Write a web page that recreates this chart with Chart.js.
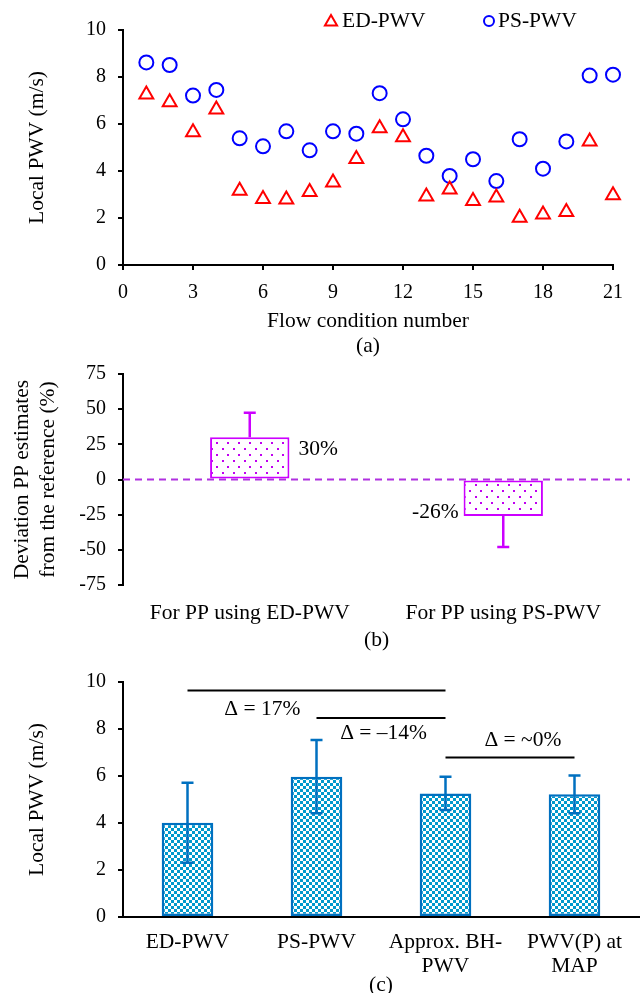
<!DOCTYPE html>
<html>
<head>
<meta charset="utf-8">
<script src="https://cdn.jsdelivr.net/npm/chart.js@4.4.1/dist/chart.umd.min.js"></script>
<style>
  body { margin: 0; background: #fff; width: 644px; height: 993px; overflow: hidden; position: relative; }
  canvas { position: absolute; left: 0; }
</style>
</head>
<body>
<canvas id="chartA" width="644" height="365" style="top:0px"></canvas>
<canvas id="chartB" width="644" height="305" style="top:350px"></canvas>
<canvas id="chartC" width="644" height="355" style="top:645px"></canvas>
<script>
// (a) local PWV per flow condition
const flowCondition = [1, 2, 3, 4, 5, 6, 7, 8, 9, 10, 11, 12, 13, 14, 15, 16, 17, 18, 19, 20, 21];
const edPwv = [7.26, 6.93, 5.65, 6.62, 3.16, 2.81, 2.79, 3.11, 3.51, 4.51, 5.82, 5.44, 2.92, 3.21, 2.72, 2.87, 2.01, 2.15, 2.26, 5.26, 2.97];
const psPwv = [8.62, 8.51, 7.21, 7.45, 5.39, 5.05, 5.69, 4.88, 5.69, 5.59, 7.31, 6.20, 4.65, 3.79, 4.50, 3.57, 5.35, 4.10, 5.26, 8.06, 8.10];

// (b) deviation of PP estimates
const ppLabels = ["For PP using ED-PWV", "For PP using PS-PWV"];
const ppDeviation = [30, -26];
const ppError = [17.5, 22];
const ppText = ["30%", "-26%"];

// (c) mean local PWV per method
const methodLabels = [["ED-PWV"], ["PS-PWV"], ["Approx. BH-", "PWV"], ["PWV(P) at", "MAP"]];
const methodMean = [4.01, 5.97, 5.26, 5.22];
const methodSd = [1.70, 1.56, 0.71, 0.80];
const deltaFrom = [0, 1, 2];
const deltaTo = [2, 2, 3];
const deltaLevel = [9.64, 8.47, 6.79];
const deltaText = ["\u0394 = 17%", "\u0394 = \u201314%", "\u0394 = ~0%"];

const FAMILY = "'Liberation Serif', 'Times New Roman', serif";
Chart.defaults.font.family = FAMILY;
Chart.defaults.font.size = 20;
Chart.defaults.color = "#000";

const serif = { family: FAMILY, size: 21.5, lineHeight: 1.18 };
const textFont = "21.5px 'Liberation Serif'";

function makePattern(kind) {
  const c = document.createElement("canvas");
  const g = c.getContext("2d");
  if (kind === "dots") {
    c.width = 11; c.height = 12;
    g.fillStyle = "#fff"; g.fillRect(0, 0, 11, 12);
    g.fillStyle = "#c000f0";
    g.fillRect(2, 2, 2, 2);
    g.fillRect(7, 8, 2, 2);
  } else {
    c.width = 6; c.height = 6;
    g.fillStyle = "#fff"; g.fillRect(0, 0, 6, 6);
    g.fillStyle = "#0099cc";
    g.fillRect(0, 0, 3, 3);
    g.fillRect(3, 3, 3, 3);
  }
  return g.createPattern(c, "repeat");
}

const errorBars = {
  id: "errorBars",
  afterDatasetsDraw(chart, args, opts) {
    const ctx = chart.ctx;
    const yScale = chart.scales.y;
    const meta = chart.getDatasetMeta(0);
    ctx.save();
    ctx.strokeStyle = opts.color;
    ctx.lineWidth = opts.width;
    meta.data.forEach((bar, i) => {
      const v = opts.values[i];
      const e = opts.errors[i];
      let hi = v + e, lo = v - e;
      if (opts.oneSided) {
        if (v >= 0) lo = v; else hi = v;
      }
      const y1 = yScale.getPixelForValue(hi);
      const y2 = yScale.getPixelForValue(lo);
      const w = opts.cap / 2;
      ctx.beginPath();
      ctx.moveTo(bar.x, y1);
      ctx.lineTo(bar.x, y2);
      if (!opts.oneSided || v >= 0) { ctx.moveTo(bar.x - w, y1); ctx.lineTo(bar.x + w, y1); }
      if (!opts.oneSided || v < 0) { ctx.moveTo(bar.x - w, y2); ctx.lineTo(bar.x + w, y2); }
      ctx.stroke();
    });
    ctx.restore();
  }
};

// legend of panel (a), drawn by hand so it sits right of centre
const legendA = {
  id: "legendA",
  afterDraw(chart) {
    const ctx = chart.ctx;
    ctx.save();
    ctx.lineWidth = 2;
    ctx.strokeStyle = "#ff0000";
    ctx.beginPath();
    const tx = 331, ty = 22, r = 7;
    ctx.moveTo(tx, ty - r);
    ctx.lineTo(tx + r * 0.866, ty + r / 2);
    ctx.lineTo(tx - r * 0.866, ty + r / 2);
    ctx.closePath();
    ctx.stroke();
    ctx.strokeStyle = "#0000ff";
    ctx.beginPath();
    ctx.arc(489, 21, 5, 0, Math.PI * 2);
    ctx.stroke();
    ctx.font = textFont;
    ctx.fillStyle = "#000";
    ctx.textBaseline = "middle";
    ctx.fillText("ED-PWV", 342, 21);
    ctx.fillText("PS-PWV", 498, 21);
    ctx.restore();
  }
};

const axisA = {
  border: { color: "#000", width: 2 },
  grid: { drawOnChartArea: false, color: "#000", tickLength: 5, lineWidth: 2 }
};

new Chart(document.getElementById("chartA"), {
  type: "scatter",
  data: {
    datasets: [
      {
        label: "ED-PWV",
        data: flowCondition.map((f, i) => ({ x: f, y: edPwv[i] })),
        pointStyle: "triangle",
        pointRadius: 8,
        borderColor: "#ff0000",
        backgroundColor: "rgba(0,0,0,0)",
        borderWidth: 2,
        clip: false
      },
      {
        label: "PS-PWV",
        data: flowCondition.map((f, i) => ({ x: f, y: psPwv[i] })),
        pointStyle: "circle",
        pointRadius: 7,
        borderColor: "#0000ff",
        backgroundColor: "rgba(0,0,0,0)",
        borderWidth: 2,
        clip: false
      }
    ]
  },
  options: {
    responsive: false,
    animation: false,
    layout: { padding: { top: 30, right: 31, left: 0, bottom: 0 } },
    plugins: { legend: { display: false }, tooltip: { enabled: false } },
    scales: {
      x: {
        type: "linear", min: 0, max: 21,
        ticks: { stepSize: 3, padding: 11 },
        ...axisA,
        title: { display: true, text: ["Flow condition number", "(a)"], font: serif, padding: { top: 0, bottom: 6 } },
        afterFit: (s) => { s.height = 100; }
      },
      y: {
        min: 0, max: 10,
        ticks: { stepSize: 2, padding: 12 },
        ...axisA,
        title: { display: true, text: "Local PWV (m/s)", font: serif, padding: { top: 25, bottom: 0 } },
        afterFit: (s) => { s.width = 123; }
      }
    }
  },
  plugins: [legendA]
});

// panel (b): zero line and value labels
const zeroLine = {
  id: "zeroLine",
  beforeDatasetsDraw(chart) {
    const { ctx, chartArea } = chart;
    const y0 = chart.scales.y.getPixelForValue(0);
    ctx.save();
    ctx.strokeStyle = "#b030e0";
    ctx.lineWidth = 2;
    ctx.setLineDash([7, 5]);
    ctx.beginPath();
    ctx.moveTo(chartArea.left, y0);
    ctx.lineTo(chartArea.right, y0);
    ctx.stroke();
    ctx.restore();
  }
};
const ppValueLabels = {
  id: "ppValueLabels",
  afterDraw(chart) {
    const ctx = chart.ctx;
    const meta = chart.getDatasetMeta(0);
    ctx.save();
    ctx.font = textFont;
    ctx.fillStyle = "#000";
    ctx.textBaseline = "middle";
    meta.data.forEach((bar, i) => {
      const half = bar.width / 2;
      if (ppDeviation[i] >= 0) {
        ctx.textAlign = "left";
        ctx.fillText(ppText[i], bar.x + half + 9, bar.y + 12);
      } else {
        ctx.textAlign = "right";
        ctx.fillText(ppText[i], bar.x - half - 5, bar.y - 4);
      }
    });
    ctx.restore();
  }
};

new Chart(document.getElementById("chartB"), {
  type: "bar",
  data: {
    labels: ppLabels,
    datasets: [{
      data: ppDeviation,
      backgroundColor: makePattern("dots"),
      borderColor: "#cc00ff",
      borderWidth: 2,
      borderSkipped: false,
      barPercentage: 0.313,
      categoryPercentage: 1
    }]
  },
  options: {
    responsive: false,
    animation: false,
    layout: { padding: { top: 18, right: 14, left: 0, bottom: 0 } },
    plugins: {
      legend: { display: false }, tooltip: { enabled: false },
      errorBars: { values: ppDeviation, errors: ppError, oneSided: true, color: "#cc00ff", width: 2.5, cap: 12 }
    },
    scales: {
      x: {
        grid: { display: false },
        border: { display: false },
        ticks: { padding: 7, font: { size: 21.5 } },
        title: { display: true, text: "(b)", font: serif, padding: { top: 0, bottom: 2 } },
        afterFit: (s) => { s.height = 70; }
      },
      y: {
        min: -75, max: 75,
        ticks: { stepSize: 25, padding: 12 },
        ...axisA,
        title: { display: true, text: ["Deviation PP estimates", "from the reference (%)"], font: serif, padding: { top: 10, bottom: 0 } },
        afterFit: (s) => { s.width = 123; }
      }
    }
  },
  plugins: [zeroLine, errorBars, ppValueLabels]
});

// panel (c): brackets with percentage differences
const deltaBrackets = {
  id: "deltaBrackets",
  afterDraw(chart, args, opts) {
    const ctx = chart.ctx;
    const xs = chart.scales.x, ys = chart.scales.y;
    ctx.save();
    ctx.strokeStyle = "#000";
    ctx.lineWidth = 2;
    ctx.font = textFont;
    ctx.fillStyle = "#000";
    ctx.textAlign = "center";
    ctx.textBaseline = "middle";
    deltaLevel.forEach((lvl, i) => {
      const x1 = xs.getPixelForValue(deltaFrom[i]);
      const x2 = xs.getPixelForValue(deltaTo[i]);
      const y = ys.getPixelForValue(lvl);
      ctx.beginPath();
      ctx.moveTo(x1, y);
      ctx.lineTo(x2, y);
      ctx.stroke();
      const [frac, dy] = opts.labelPos[i];
      ctx.fillText(deltaText[i], x1 + (x2 - x1) * frac, y + dy);
    });
    ctx.restore();
  }
};

new Chart(document.getElementById("chartC"), {
  type: "bar",
  data: {
    labels: methodLabels,
    datasets: [{
      data: methodMean,
      backgroundColor: makePattern("checker"),
      borderColor: "#0070c0",
      borderWidth: 2.5,
      borderSkipped: false,
      barPercentage: 0.4,
      categoryPercentage: 1
    }]
  },
  options: {
    responsive: false,
    animation: false,
    layout: { padding: { top: 37, right: 5, left: 0, bottom: 0 } },
    plugins: {
      legend: { display: false }, tooltip: { enabled: false },
      errorBars: { values: methodMean, errors: methodSd, oneSided: false, color: "#0070c0", width: 2.5, cap: 12 },
      deltaBrackets: { labelPos: [[0.29, 19], [0.52, 15], [0.6, -17]] }
    },
    scales: {
      x: {
        grid: { drawOnChartArea: false, drawTicks: false },
        border: { color: "#000", width: 2 },
        ticks: { padding: 14, font: { size: 21.5, lineHeight: 1.1 } },
        title: { display: true, text: "(c)", font: serif, padding: { top: 0, bottom: 2 } },
        afterFit: (s) => { s.height = 83; }
      },
      y: {
        min: 0, max: 10,
        ticks: { stepSize: 2, padding: 12 },
        ...axisA,
        title: { display: true, text: "Local PWV (m/s)", font: serif, padding: { top: 25, bottom: 0 } },
        afterFit: (s) => { s.width = 123; }
      }
    }
  },
  plugins: [errorBars, deltaBrackets]
});
</script>
</body>
</html>
